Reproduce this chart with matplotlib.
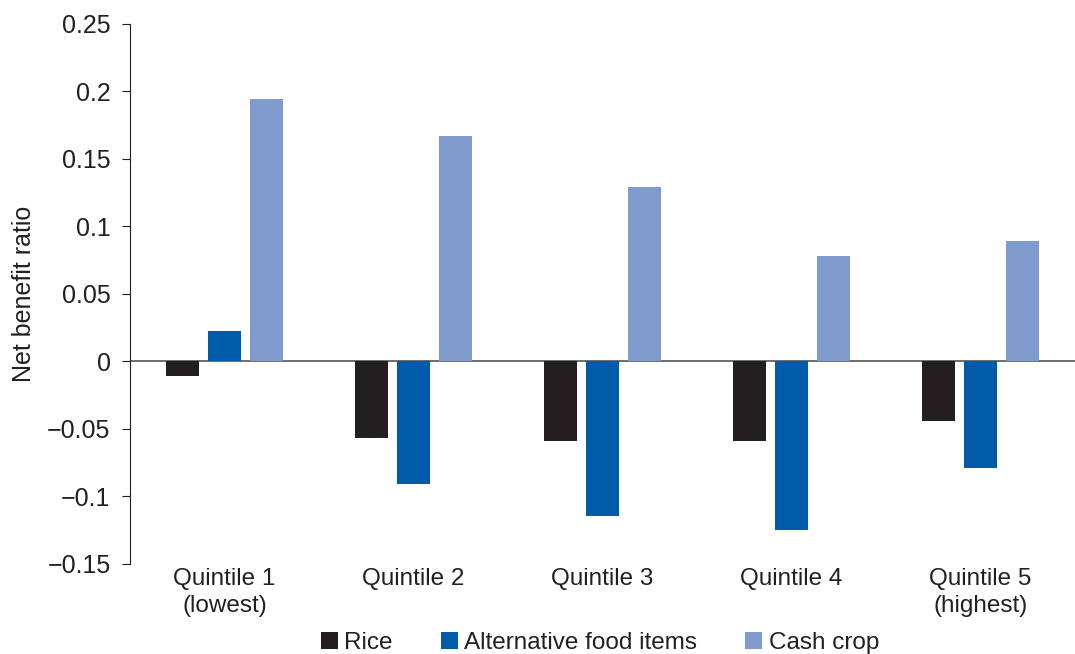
import numpy as np
import matplotlib.pyplot as plt

# data
quintiles = ['Quintile 1\n(lowest)', 'Quintile 2', 'Quintile 3', 'Quintile 4', 'Quintile 5\n(highest)']
rice = [-0.011, -0.057, -0.059, -0.059, -0.044]
alt_food = [0.022, -0.091, -0.115, -0.125, -0.079]
cash_crop = [0.194, 0.167, 0.129, 0.078, 0.089]

plt.rcParams['font.family'] = ['Liberation Sans', 'DejaVu Sans']
txt = '#231f20'

fig = plt.figure(figsize=(10.75, 6.54), dpi=100)
ax = fig.add_axes([0.121, 0.138, 0.879, 0.826])

x = np.arange(len(quintiles))
w = 0.175
d = 0.222
ax.bar(x - d, rice, w, color='#231f20', label='Rice')
ax.bar(x, alt_food, w, color='#005baa', label='Alternative food items')
ax.bar(x + d, cash_crop, w, color='#7f9bcd', label='Cash crop')

ax.axhline(0, color='#555555', lw=1.2, zorder=0)
ax.set_xlim(-0.5, 4.5)
ax.set_ylim(-0.15, 0.25)
ax.set_yticks(np.arange(-0.15, 0.26, 0.05))
ax.set_yticklabels(['\u22120.15', '\u22120.1', '\u22120.05', '0', '0.05', '0.1', '0.15', '0.2', '0.25'])
ax.tick_params(axis='y', labelsize=18, length=6, direction='out', color=txt, labelcolor=txt, pad=8)
ax.tick_params(axis='x', length=0, pad=3, labelcolor=txt)
ax.set_xticks(x)
ax.set_xticklabels(quintiles, fontsize=17.5, linespacing=1.3)

for s in ['top', 'right', 'bottom']:
    ax.spines[s].set_visible(False)
ax.spines['left'].set_color(txt)

ax.set_ylabel('Net benefit ratio', fontsize=18, color=txt, labelpad=8)

leg = ax.legend(loc='center', bbox_to_anchor=(0.497, -0.146), ncol=3, frameon=False,
                prop={'size': 17.5}, handlelength=0.7, handleheight=0.7,
                handletextpad=0.25, columnspacing=2.0, borderpad=0, labelcolor=txt)

plt.savefig('out.png', dpi=100)
